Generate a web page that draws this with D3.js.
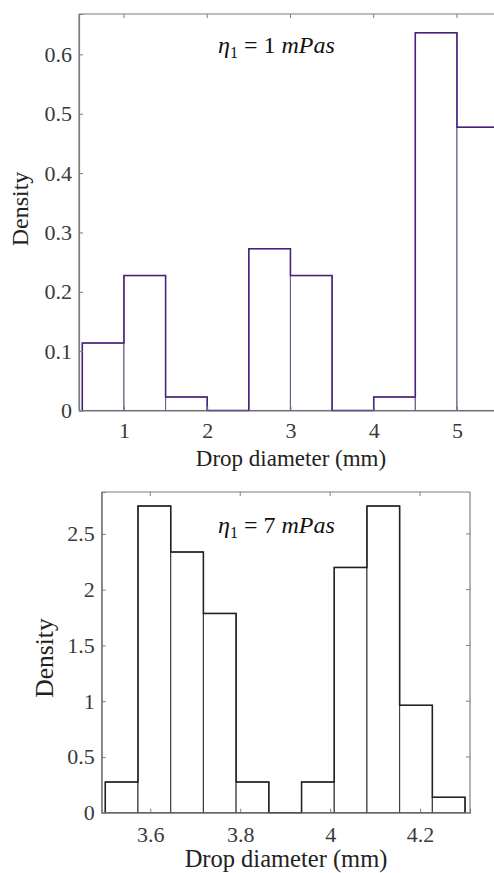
<!DOCTYPE html>
<html>
<head>
<meta charset="utf-8">
<script src="https://cdn.jsdelivr.net/npm/d3@7"></script>
<style>
  html, body { margin: 0; padding: 0; background: #fff; overflow: hidden; }
  svg, svg text { font-family: "Liberation Serif", "DejaVu Serif", "Times New Roman", serif; }
</style>
</head>
<body>
<svg id="chart" width="494" height="873"></svg>
<script>
// top histogram (eta = 1 mPas)
let topEdges = [0.5, 1, 1.5, 2, 2.5, 3, 3.5, 4, 4.5, 5, 5.5];
let topDensity = [0.1136, 0.2273, 0.0227, 0, 0.2727, 0.2273, 0, 0.0227, 0.6364, 0.4773];
let topXTicks = [1, 2, 3, 4, 5];
let topYTicks = [0, 0.1, 0.2, 0.3, 0.4, 0.5, 0.6];

// bottom histogram (eta = 7 mPas)
let botEdges = [3.5, 3.5727, 3.6455, 3.7182, 3.7909, 3.8636, 3.9364, 4.0091, 4.0818, 4.1545, 4.2273, 4.3];
let botDensity = [0.275, 2.75, 2.3375, 1.7875, 0.275, 0, 0.275, 2.2, 2.75, 0.9625, 0.1375];
let botXTicks = [3.6, 3.8, 4, 4.2];
let botYTicks = [0, 0.5, 1, 1.5, 2, 2.5];

let serif = '"Liberation Serif", "DejaVu Serif", serif';
let svg = d3.select('#chart').attr('font-family', serif);
let fmt = d3.format('~g');

function drawHist(opt) {
    let x = d3.scaleLinear().domain(opt.xdom).range([opt.left, opt.right]);
    let y = d3.scaleLinear().domain(opt.ydom).range([opt.bottom, opt.top]);
    let g = svg.append('g');

    let bins = opt.values.map(function (v, i) {
        return {x0: opt.edges[i], x1: opt.edges[i + 1], v: v};
    });

    // bars
    g.selectAll('rect.bar')
        .data(bins)
        .enter().append('rect')
        .attr('class', 'bar')
        .attr('x', d => x(d.x0))
        .attr('y', d => y(d.v))
        .attr('width', d => x(d.x1) - x(d.x0))
        .attr('height', d => y(0) - y(d.v))
        .attr('fill', '#fff')
        .attr('stroke', opt.barStroke)
        .attr('stroke-width', 1.1);

    // outline of the histogram
    let pts = [[opt.edges[0], 0]];
    opt.values.forEach(function (v, i) { pts.push([opt.edges[i], v]); });
    pts.push([opt.edges[opt.edges.length - 1], opt.values[opt.values.length - 1]]);
    pts.push([opt.edges[opt.edges.length - 1], 0]);
    let step = d3.line()
        .x(d => x(d[0]))
        .y(d => y(d[1]))
        .curve(d3.curveStepAfter);
    g.append('path')
        .datum(pts)
        .attr('d', step)
        .attr('fill', 'none')
        .attr('stroke', opt.edgeStroke)
        .attr('stroke-width', 1.5);

    // frame
    let axisColor = '#7d7d7d';
    let frame = g.append('g').attr('stroke', axisColor).attr('stroke-width', 1.2).attr('fill', 'none');
    frame.append('line').attr('x1', opt.left).attr('x2', opt.right).attr('y1', opt.top).attr('y2', opt.top);
    frame.append('line').attr('x1', opt.left).attr('x2', opt.left).attr('y1', opt.top).attr('y2', opt.bottom);
    if (opt.rightFrame) {
        frame.append('line').attr('x1', opt.right).attr('x2', opt.right).attr('y1', opt.top).attr('y2', opt.bottom);
    }

    // axes
    let xa = g.append('g')
        .attr('transform', 'translate(0,' + opt.bottom + ')')
        .call(d3.axisBottom(x).tickValues(opt.xticks).tickFormat(fmt).tickSize(-4).tickPadding(opt.xpad));
    let ya = g.append('g')
        .attr('transform', 'translate(' + opt.left + ',0)')
        .call(d3.axisLeft(y).tickValues(opt.yticks).tickFormat(fmt).tickSize(-4).tickPadding(7));
    [xa, ya].forEach(function (a) {
        a.attr('font-family', serif).attr('font-size', 22);
        a.select('.domain').attr('stroke', axisColor).attr('stroke-width', 1.2);
        a.selectAll('.tick line').attr('stroke', axisColor);
        a.selectAll('.tick text').attr('font-family', serif).attr('font-size', 22).attr('fill', '#3a3a3a');
    });

    // mirrored ticks on the top (and right) edges
    g.selectAll('line.ttick')
        .data(opt.xticks)
        .enter().append('line')
        .attr('x1', d => x(d)).attr('x2', d => x(d))
        .attr('y1', opt.top).attr('y2', opt.top + 4)
        .attr('stroke', axisColor);
    if (opt.rightFrame) {
        g.selectAll('line.rtick')
            .data(opt.yticks)
            .enter().append('line')
            .attr('x1', opt.right).attr('x2', opt.right - 4)
            .attr('y1', d => y(d)).attr('y2', d => y(d))
            .attr('stroke', axisColor);
    }

    // axis titles
    g.append('text')
        .attr('x', opt.xlabelX).attr('y', opt.xlabelY)
        .attr('text-anchor', 'middle')
        .attr('font-family', serif)
        .attr('font-size', opt.labelSize)
        .attr('fill', '#222')
        .text('Drop diameter (mm)');
    g.append('text')
        .attr('transform', 'translate(' + opt.ylabelX + ',' + opt.ylabelY + ') rotate(-90)')
        .attr('text-anchor', 'middle')
        .attr('font-family', serif)
        .attr('font-size', opt.labelSize + 1)
        .attr('fill', '#222')
        .text('Density');

    // annotation
    let t = g.append('text')
        .attr('x', 218).attr('y', opt.noteY)
        .attr('font-family', serif)
        .attr('font-size', 24)
        .attr('fill', '#111');
    t.append('tspan').attr('font-style', 'italic').text('η');
    t.append('tspan').attr('font-size', 16).attr('dy', 5).text('1');
    t.append('tspan').attr('dy', -5).text(' = ' + opt.eta + ' ');
    t.append('tspan').attr('font-style', 'italic').text('mPas');
}

drawHist({
    edges: topEdges, values: topDensity, xticks: topXTicks, yticks: topYTicks,
    xdom: [0.46, 5.56], ydom: [0, 0.668],
    left: 79, right: 79 + 5.1 * 83.25, top: 14, bottom: 410.5,
    rightFrame: false, xpad: 12,
    barStroke: '#6a6084', edgeStroke: '#45207e',
    xlabelX: 291, xlabelY: 466, ylabelX: 28, ylabelY: 209, labelSize: 23,
    noteY: 53, eta: 1
});

drawHist({
    edges: botEdges, values: botDensity, xticks: botXTicks, yticks: botYTicks,
    xdom: [3.492, 4.311], ydom: [0, 2.876],
    left: 101.7, right: 470, top: 492, bottom: 812.7,
    rightFrame: true, xpad: 13.5,
    barStroke: '#3a3a3a', edgeStroke: '#222',
    xlabelX: 286, xlabelY: 867, ylabelX: 53, ylabelY: 658, labelSize: 24.5,
    noteY: 533, eta: 7
});
</script>
</body>
</html>
